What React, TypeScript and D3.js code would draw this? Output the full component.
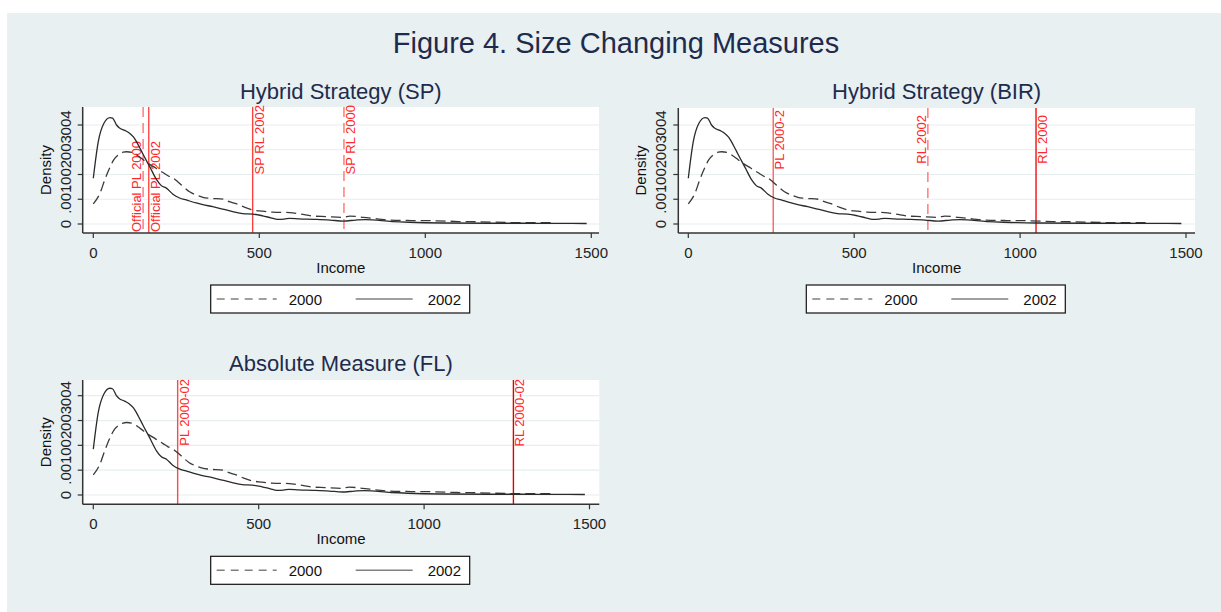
import React from 'react';
import * as d3 from 'd3';

// kernel density estimates
const incomes2000 = [0, 20, 35, 50, 62, 75, 90, 100, 120, 135, 151, 165, 181, 195, 211, 225, 241, 255, 271, 290, 311, 330, 351, 392, 410, 432, 455, 480, 510, 540, 592, 625, 663, 700, 753, 773, 813, 860, 893, 960, 1033, 1100, 1154, 1250, 1297, 1390];
const density2000 = [0.00081, 0.00124, 0.0018, 0.00229, 0.0026, 0.00279, 0.0029, 0.00292, 0.00288, 0.00275, 0.00259, 0.00245, 0.00232, 0.0022, 0.00207, 0.00195, 0.00185, 0.0017, 0.00151, 0.0013, 0.00117, 0.00108, 0.00104, 0.001, 0.0009, 0.00081, 0.00068, 0.00057, 0.00052, 0.00048, 0.00046, 0.0004, 0.00032, 0.0003, 0.00027, 0.00032, 0.00027, 0.0002, 0.00016, 0.00014, 0.00013, 0.0001, 0.00009, 0.00006, 0.00005, 0.00005];
const incomes2002 = [0, 15, 32, 50, 58, 70, 78, 95, 110, 122, 130, 141, 151, 171, 191, 205, 221, 240, 260, 280, 310, 330, 360, 390, 420, 450, 480, 510, 535, 555, 575, 592, 620, 663, 713, 753, 790, 820, 900, 950, 1050, 1200, 1300, 1400, 1486];
const density2002 = [0.00185, 0.00333, 0.00407, 0.0043, 0.00428, 0.004, 0.00389, 0.00378, 0.00366, 0.0035, 0.00333, 0.00305, 0.00279, 0.00229, 0.00178, 0.00155, 0.00144, 0.0012, 0.00105, 0.00097, 0.00085, 0.00078, 0.0007, 0.0006, 0.0005, 0.00042, 0.0004, 0.00033, 0.00025, 0.00019, 0.0002, 0.00023, 0.00021, 0.00019, 0.00016, 0.00012, 0.00016, 0.00018, 0.0001, 0.00007, 0.00004, 0.00003, 0.00003, 0.000025, 0.00002];

const seriesNames = ['2000', '2002'];
const xTickValues = [0, 500, 1000, 1500];
const yTickValues = [0, 0.001, 0.002, 0.003, 0.004];
const panelTitles = ['Hybrid Strategy (SP)', 'Hybrid Strategy (BIR)', 'Absolute Measure (FL)'];

const spLineLabels = ['Official PL 2000', 'Official PL 2002', 'SP RL 2002', 'SP RL 2000'];
const spLineValues = [150, 167, 480, 755];
const birLineLabels = ['PL 2000-2', 'RL 2002', 'RL 2000'];
const birLineValues = [256, 722, 1048];
const flLineLabels = ['PL 2000-02', 'RL 2000-02'];
const flLineValues = [255, 1270];

const FONT = '"Liberation Sans", Arial, Helvetica, sans-serif';
const BG = '#e8f0f2';

// how each reference line is drawn (dash, colour, where its label goes)
const refStyle: Record<string, { dash?: string; color: string; side: 'left' | 'right'; anchor: 'top' | 'bottom'; dy: number }> = {
  'Official PL 2000': { dash: '10,6', color: '#ff7474', side: 'left', anchor: 'bottom', dy: -1 },
  'Official PL 2002': { color: '#ff4848', side: 'right', anchor: 'bottom', dy: -1 },
  'SP RL 2002': { color: '#ff4040', side: 'right', anchor: 'top', dy: -2 },
  'SP RL 2000': { dash: '10,6', color: '#ff7474', side: 'right', anchor: 'top', dy: -2 },
  'PL 2000-2': { color: '#ff6060', side: 'right', anchor: 'top', dy: 2 },
  'RL 2002': { dash: '10,6', color: '#ff7474', side: 'left', anchor: 'top', dy: 7 },
  'RL 2000': { color: '#ee1010', side: 'right', anchor: 'top', dy: 7 },
  'PL 2000-02': { color: '#ff4848', side: 'right', anchor: 'top', dy: -1 },
  'RL 2000-02': { color: '#e00000', side: 'right', anchor: 'top', dy: -1 },
};

const panels = [
  { title: panelTitles[0], labels: spLineLabels, values: spLineValues, left: 82.7, right: 599, top: 107, axisY: 233, x0: 93.3, x1: 591.3, y0: 224, y1: 125, titleY: 99 },
  { title: panelTitles[1], labels: birLineLabels, values: birLineValues, left: 678.3, right: 1195, top: 108, axisY: 233, x0: 688.3, x1: 1186, y0: 224, y1: 125, titleY: 99 },
  { title: panelTitles[2], labels: flLineLabels, values: flLineValues, left: 82.7, right: 599.3, top: 380, axisY: 504.3, x0: 93.3, x1: 589.5, y0: 495, y1: 395.7, titleY: 371 },
];

const yFmt = (v: number) => (v === 0 ? '0' : d3.format('.3f')(v).replace(/^0\./, '.'));

function Panel({ p }: { p: typeof panels[number] }) {
  const x = d3.scaleLinear().domain([0, 1500]).range([p.x0, p.x1]);
  const y = d3.scaleLinear().domain([0, 0.004]).range([p.y0, p.y1]);
  const line = d3.line<[number, number]>().x(d => x(d[0])).y(d => y(d[1])).curve(d3.curveMonotoneX);
  const d2000 = line(incomes2000.map((v, i) => [v, density2000[i]]));
  const d2002 = line(incomes2002.map((v, i) => [v, density2002[i]]));
  const cx = (p.left + p.right) / 2;
  const lx = p.left + 128;
  const ly = p.axisY + 52;

  return (
    <g>
      <text x={cx} y={p.titleY} textAnchor="middle" fontSize={22} fill="#1f2b4d">{p.title}</text>
      <rect x={p.left} y={p.top} width={p.right - p.left} height={p.axisY - p.top} fill="#fff" />
      {yTickValues.map(t => (
        <line key={'g' + t} x1={p.left} x2={p.right} y1={y(t)} y2={y(t)} stroke="#e6eef0" strokeWidth={1.2} />
      ))}
      {/* reference lines */}
      {p.labels.map((lab, i) => {
        const s = refStyle[lab];
        const xv = x(p.values[i]);
        const bx = s.side === 'right' ? xv + 11 : xv - 2;
        const by = s.anchor === 'top' ? p.top + s.dy : p.axisY + s.dy;
        return (
          <g key={lab}>
            <line x1={xv} x2={xv} y1={p.top} y2={p.axisY} stroke={s.color} strokeWidth={1.4} strokeDasharray={s.dash} />
            <text transform={`translate(${bx},${by}) rotate(-90)`} textAnchor={s.anchor === 'top' ? 'end' : 'start'} fontSize={13} fill="#ff2828">{lab}</text>
          </g>
        );
      })}
      <path d={d2000 || ''} fill="none" stroke="#3a3a3a" strokeWidth={1.3} strokeDasharray="10,5" />
      <path d={d2002 || ''} fill="none" stroke="#2a2a2a" strokeWidth={1.3} />
      {/* axes */}
      <line x1={p.left} x2={p.left} y1={p.top} y2={p.axisY} stroke="#333" strokeWidth={1.5} />
      <line x1={p.left} x2={p.right} y1={p.axisY} y2={p.axisY} stroke="#333" strokeWidth={1.5} />
      {yTickValues.map(t => (
        <g key={'y' + t}>
          <line x1={p.left - 5} x2={p.left} y1={y(t)} y2={y(t)} stroke="#333" strokeWidth={1.2} />
          <text transform={`translate(${p.left - 12},${y(t)}) rotate(-90)`} textAnchor="middle" fontSize={15} fill="#222">{yFmt(t)}</text>
        </g>
      ))}
      <text transform={`translate(${p.left - 32},${(p.top + p.axisY) / 2}) rotate(-90)`} textAnchor="middle" fontSize={15} fill="#111">Density</text>
      {xTickValues.map(t => (
        <g key={'x' + t}>
          <line x1={x(t)} x2={x(t)} y1={p.axisY} y2={p.axisY + 5} stroke="#333" strokeWidth={1.2} />
          <text x={x(t)} y={p.axisY + 25} textAnchor="middle" fontSize={15} fill="#222">{t}</text>
        </g>
      ))}
      <text x={cx} y={p.axisY + 40} textAnchor="middle" fontSize={15} fill="#111">Income</text>
      {/* legend */}
      <rect x={lx} y={ly} width={259} height={28} fill="#fff" stroke="#111" strokeWidth={1.2} />
      <line x1={lx + 6} x2={lx + 66} y1={ly + 14} y2={ly + 14} stroke="#808080" strokeWidth={1.5} strokeDasharray="8,6" />
      <text x={lx + 78} y={ly + 19.5} fontSize={15} fill="#111">{seriesNames[0]}</text>
      <line x1={lx + 145} x2={lx + 202} y1={ly + 14} y2={ly + 14} stroke="#808080" strokeWidth={1.5} />
      <text x={lx + 217} y={ly + 19.5} fontSize={15} fill="#111">{seriesNames[1]}</text>
    </g>
  );
}

export default function App() {
  return (
    <div style={{ position: 'absolute', left: 0, top: 0 }}>
      <svg width={1221} height={612} fontFamily={FONT} style={{ display: 'block' }}>
        <rect x={0} y={0} width={1221} height={612} fill="#fff" />
        <rect x={7} y={13} width={1214} height={599} fill={BG} />
        <text x={616} y={53} textAnchor="middle" fontSize={29} fill="#1f2b4d">Figure 4. Size Changing Measures</text>
        {panels.map(p => <Panel key={p.title} p={p} />)}
      </svg>
    </div>
  );
}
